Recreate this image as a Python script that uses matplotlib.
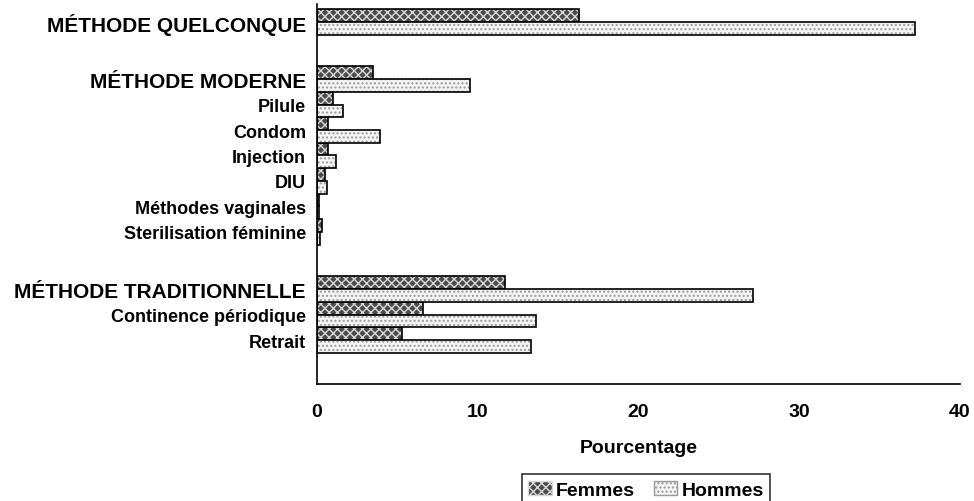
import numpy as np
import matplotlib.pyplot as plt
from matplotlib.patches import Patch

plt.rcParams['font.family'] = ['Liberation Sans', 'DejaVu Sans']
plt.rcParams['font.weight'] = 'bold'
plt.rcParams['axes.labelweight'] = 'bold'

# categories, grouped (blank rows between groups)
groups = [
    ['MÉTHODE QUELCONQUE'],
    ['MÉTHODE MODERNE', 'Pilule', 'Condom', 'Injection', 'DIU',
     'Méthodes vaginales', 'Sterilisation féminine'],
    ['MÉTHODE TRADITIONNELLE', 'Continence périodique', 'Retrait'],
]
femmes = [16.3, 3.5, 1.0, 0.7, 0.7, 0.5, 0.1, 0.3, 11.7, 6.6, 5.3]
hommes = [37.2, 9.5, 1.6, 3.9, 1.2, 0.6, 0.1, 0.2, 27.1, 13.6, 13.3]
xticks = [0, 10, 20, 30, 40]

labels = []
ypos = []
y = 0.0
for g in groups:
    for lab in g:
        labels.append(lab)
        ypos.append(y)
        y += 1
    y += 1.25
ypos = np.array(ypos)

fig = plt.figure(figsize=(9.74, 5.02), dpi=100)
ax = fig.add_axes([0.3255, 0.233, 0.66, 0.757])

h = 0.5
# Femmes: dark with light checker hatch
ax.barh(ypos - h / 2, femmes, height=h, color='#4a4a4a', edgecolor='#d8d8d8',
        hatch='xxxx', linewidth=0)
ax.barh(ypos - h / 2, femmes, height=h, fill=False, edgecolor='black', linewidth=1.2)
# Hommes: light dotted
ax.barh(ypos + h / 2, hommes, height=h, color='#f4f4f4', edgecolor='#9a9a9a',
        hatch='....', linewidth=0)
ax.barh(ypos + h / 2, hommes, height=h, fill=False, edgecolor='black', linewidth=1.2)

ax.set_yticks(ypos)
ax.set_yticklabels(labels)
for t in ax.get_yticklabels():
    t.set_fontsize(15 if t.get_text().startswith('MÉTHODE ') else 13)
ax.set_xticks(xticks)
ax.set_xticklabels([str(t) for t in xticks], fontsize=14)
ax.set_xlim(0, 40)
ax.set_ylim(ypos[-1] + 1.73, -0.7)
ax.tick_params(axis='y', length=0, pad=8)
ax.tick_params(axis='x', length=0, pad=14)
ax.set_xlabel('Pourcentage', fontsize=14, labelpad=13)
for s in ['top', 'right']:
    ax.spines[s].set_visible(False)
ax.spines['left'].set_linewidth(1.2)
ax.spines['bottom'].set_linewidth(1.2)

handles = [Patch(facecolor='#4a4a4a', edgecolor='#d8d8d8', hatch='xxxx'),
           Patch(facecolor='#f4f4f4', edgecolor='#9a9a9a', hatch='....')]
leg = fig.legend(handles, ['Femmes', 'Hommes'], ncol=2, loc='upper center',
                 bbox_to_anchor=(646 / 974, 1 - 465 / 502), fontsize=14,
                 frameon=True, fancybox=False, edgecolor='black',
                 handlelength=1.2, handleheight=0.8, handletextpad=0.2,
                 columnspacing=1.0, borderpad=0.35)
leg.get_frame().set_linewidth(1.2)

fig.savefig('out.png', dpi=100)
